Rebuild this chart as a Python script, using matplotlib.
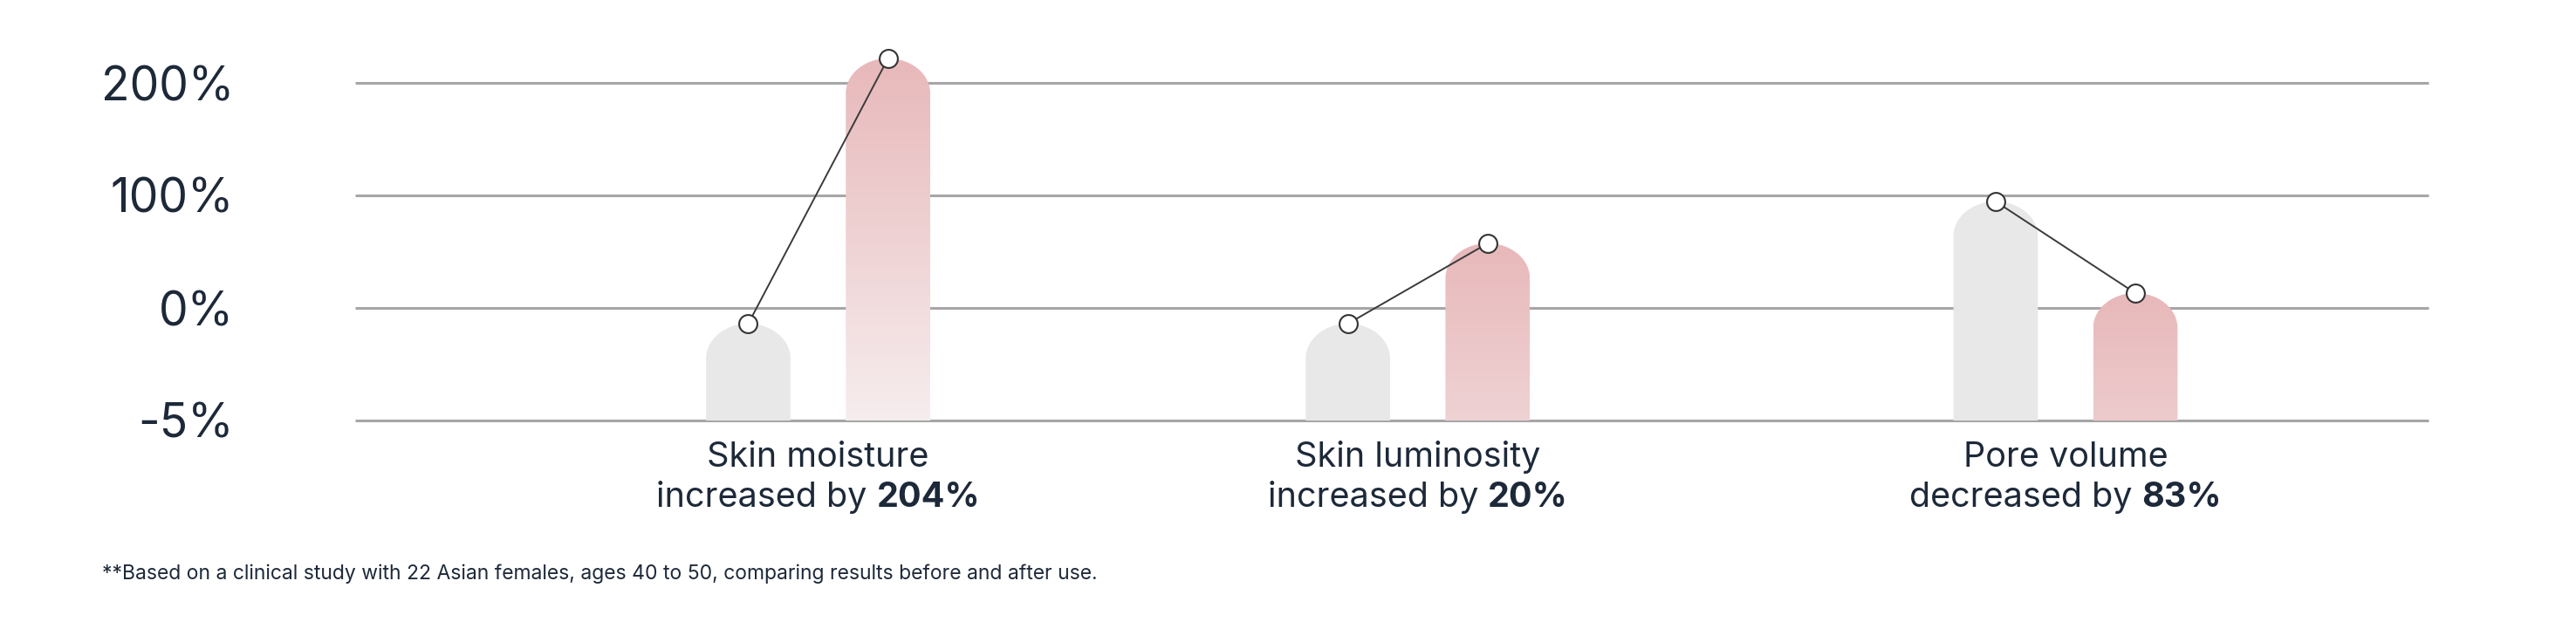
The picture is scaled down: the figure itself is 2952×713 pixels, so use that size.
import numpy as np
import matplotlib
matplotlib.use("Agg")
import matplotlib.pyplot as plt
from matplotlib.path import Path
from matplotlib.patches import PathPatch
from matplotlib.colors import to_rgb
import matplotlib.transforms as mtransforms

# ---------------- data ----------------
label_line1 = ["Skin moisture", "Skin luminosity", "Pore volume"]
label_line2 = ["increased by", "increased by", "decreased by"]
change_text = ["204%", "20%", "83%"]
before_values = [-0.7, -0.7, 94.6]
after_values = [221.7, 57.4, 13.2]
tick_values = [-5, 0, 100, 200]
tick_labels = ["-5%", "0%", "100%", "200%"]
footnote = ("**Based on a clinical study with 22 Asian females, ages 40 to 50, "
            "comparing results before and after use.")

# ---------------- style / layout ----------------
W, H = 2952, 713
FONT = "Inter"
TEXT = "#1d2939"
GRID = "#a6a6a6"
GRAY_BAR = "#e8e8e8"
PINK_TOP = "#e8b8ba"
PINK_BOT = "#f6edee"
group_x = [0.2233, 0.5125, 0.8249]   # axes-fraction group centres
bar_off = 0.0337
bar_w = 0.0407
dome_px = 40
grad_span = 3.2                       # levels over which the pink fades

plt.rcParams["font.family"] = [FONT, "DejaVu Sans"]


def level(v):
    v = np.asarray(v, dtype=float)
    return np.where(v < 0, (v + 5) / 5.0, 1 + v / 100.0)


fig = plt.figure(figsize=(W / 100, H / 100), dpi=100)
ax_l, ax_r, ax_b, grid_top, ax_t = 407, 2783, 482, 95, 25
ypx_per_level = (ax_b - grid_top) / 3.0
ymax = (ax_b - ax_t) / ypx_per_level
ax = fig.add_axes([ax_l / W, 1 - ax_b / H, (ax_r - ax_l) / W, (ax_b - ax_t) / H])
for s in ax.spines.values():
    s.set_visible(False)
ax.set_xticks([])
ax.set_yticks(level(tick_values))
ax.set_yticklabels(tick_labels, fontsize=38.5, color=TEXT)
ax.tick_params(axis="y", length=0, pad=100)
ax.hlines(level(tick_values), 0, 1, colors=GRID, linewidth=2.2, zorder=0, clip_on=False)

ry = dome_px / ypx_per_level
rx = bar_w / 2


def bar_path(xc, top):
    x0, x1 = xc - rx, xc + rx
    t = np.linspace(np.pi, 0, 80)
    arc = np.column_stack([xc + rx * np.cos(t), (top - ry) + ry * np.sin(t)])
    verts = np.vstack([[x0, 0], arc, [x1, 0], [x0, 0]])
    codes = [Path.MOVETO] + [Path.LINETO] * (len(verts) - 2) + [Path.CLOSEPOLY]
    return Path(verts, codes)


top_c = np.array(to_rgb(PINK_TOP))
bot_c = np.array(to_rgb(PINK_BOT))

bl = level(before_values)
al = level(after_values)
for gx, b, a in zip(group_x, bl, al):
    xb, xa = gx - bar_off, gx + bar_off
    # before bar (gray)
    ax.add_patch(PathPatch(bar_path(xb, b), facecolor=GRAY_BAR, edgecolor="none", zorder=2))
    # after bar (pink gradient)
    p = PathPatch(bar_path(xa, a), facecolor="none", edgecolor="none", zorder=2)
    ax.add_patch(p)
    n = 400
    d = np.linspace(0, a, n)              # distance from the top, in levels
    frac = np.clip(d / grad_span, 0, 1)[:, None]
    cols = top_c[None, :] + frac * (bot_c - top_c)[None, :]
    img = ax.imshow(cols[:, None, :], extent=[xa - rx, xa + rx, 0, a], origin="upper",
                    aspect="auto", interpolation="bilinear", zorder=2)
    img.set_clip_path(p)
    # connector + markers
    ax.plot([xb, xa], [b, a], color="#3a3a3a", linewidth=1.4, zorder=3, clip_on=False)
    ax.plot([xb, xa], [b, a], linestyle="none", marker="o", markersize=15,
            markerfacecolor="white", markeredgecolor="#333333", markeredgewidth=1.5,
            zorder=4, clip_on=False)

ax.set_xlim(0, 1)
ax.set_ylim(0, ymax)

# ---------------- category labels ----------------
renderer = fig.canvas.get_renderer()
ident = mtransforms.IdentityTransform()
lab_fs = 28.5
y1_px = H - 535
y2_px = H - 581
for gx, l1, l2, c in zip(group_x, label_line1, label_line2, change_text):
    cx = ax.transData.transform((gx, 0))[0]
    fig.text(cx, y1_px, l1, transform=ident, ha="center", va="baseline",
             fontsize=lab_fs, color=TEXT)
    t1 = fig.text(0, y2_px, l2, transform=ident, ha="left", va="baseline",
                  fontsize=lab_fs, color=TEXT)
    t2 = fig.text(0, y2_px, c, transform=ident, ha="left", va="baseline",
                  fontsize=lab_fs, color=TEXT, fontweight="bold")
    w1 = t1.get_window_extent(renderer).width
    w2 = t2.get_window_extent(renderer).width
    gap = lab_fs * 100 / 72 * 0.28
    start = cx - (w1 + gap + w2) / 2
    t1.set_position((start, y2_px))
    t2.set_position((start + w1 + gap, y2_px))

fig.text(117, H - 664, footnote, transform=ident, ha="left", va="baseline",
         fontsize=16.5, color=TEXT)

fig.savefig("out.png", dpi=100, facecolor="white")
